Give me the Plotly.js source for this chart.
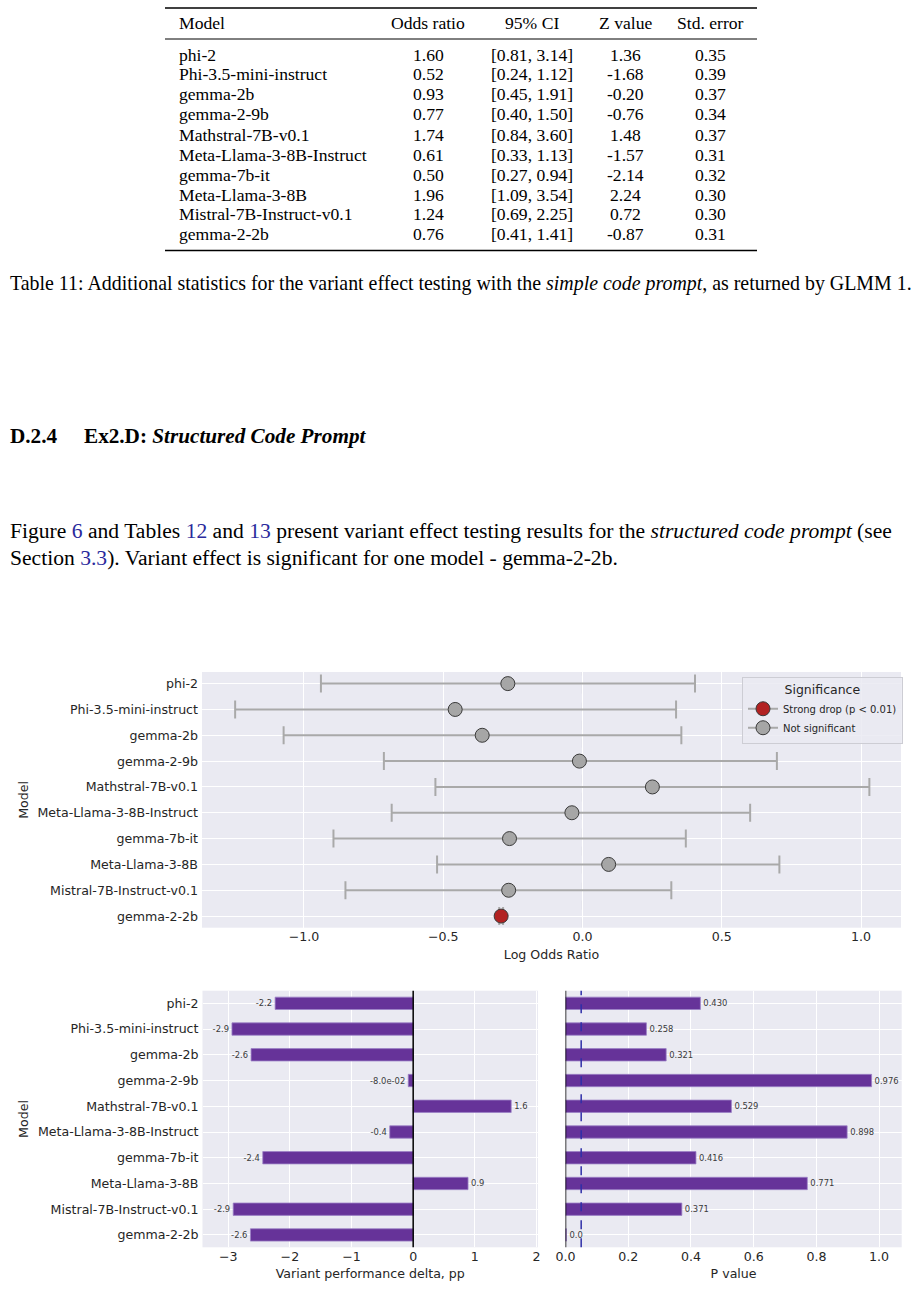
<!DOCTYPE html>
<html>
<head>
<meta charset="utf-8">
<script src="https://cdn.plot.ly/plotly-3.0.1.min.js"></script>
<style>
  html, body { margin: 0; padding: 0; background: #ffffff; }
  #page { width: 920px; height: 1289px; }
</style>
</head>
<body>
<div id="page"></div>
<script>
// ---------- Table 11 (simple code prompt) ----------
const tableHeaders = ['Model', 'Odds ratio', '95% CI', 'Z value', 'Std. error'];
const tableModels = ['phi-2', 'Phi-3.5-mini-instruct', 'gemma-2b', 'gemma-2-9b', 'Mathstral-7B-v0.1',
  'Meta-Llama-3-8B-Instruct', 'gemma-7b-it', 'Meta-Llama-3-8B', 'Mistral-7B-Instruct-v0.1', 'gemma-2-2b'];
const tableOddsRatio = ['1.60', '0.52', '0.93', '0.77', '1.74', '0.61', '0.50', '1.96', '1.24', '0.76'];
const tableCI = ['[0.81, 3.14]', '[0.24, 1.12]', '[0.45, 1.91]', '[0.40, 1.50]', '[0.84, 3.60]',
  '[0.33, 1.13]', '[0.27, 0.94]', '[1.09, 3.54]', '[0.69, 2.25]', '[0.41, 1.41]'];
const tableZ = ['1.36', '-1.68', '-0.20', '-0.76', '1.48', '-1.57', '-2.14', '2.24', '0.72', '-0.87'];
const tableSE = ['0.35', '0.39', '0.37', '0.34', '0.37', '0.31', '0.32', '0.30', '0.30', '0.31'];

// ---------- Figure 6 (structured code prompt) ----------
const models = ['phi-2', 'Phi-3.5-mini-instruct', 'gemma-2b', 'gemma-2-9b', 'Mathstral-7B-v0.1',
  'Meta-Llama-3-8B-Instruct', 'gemma-7b-it', 'Meta-Llama-3-8B', 'Mistral-7B-Instruct-v0.1', 'gemma-2-2b'];
const logOddsRatio = [-0.268, -0.457, -0.360, -0.011, 0.251, -0.038, -0.262, 0.094, -0.265, -0.292];
const ciLower = [-0.939, -1.247, -1.073, -0.713, -0.528, -0.685, -0.894, -0.522, -0.851, -0.299];
const ciUpper = [0.404, 0.336, 0.355, 0.698, 1.030, 0.602, 0.371, 0.707, 0.319, -0.285];
const significance = ['Not significant', 'Not significant', 'Not significant', 'Not significant',
  'Not significant', 'Not significant', 'Not significant', 'Not significant', 'Not significant',
  'Strong drop (p < 0.01)'];
const deltaPP = [-2.24, -2.94, -2.63, -0.08, 1.59, -0.38, -2.44, 0.89, -2.92, -2.64];
const deltaLabels = ['-2.2', '-2.9', '-2.6', '-8.0e-02', '1.6', '-0.4', '-2.4', '0.9', '-2.9', '-2.6'];
const pValues = [0.430, 0.258, 0.321, 0.976, 0.529, 0.898, 0.416, 0.771, 0.371, 0.003];
const pLabels = ['0.430', '0.258', '0.321', '0.976', '0.529', '0.898', '0.416', '0.771', '0.371', '0.0'];
const pThreshold = 0.05;

// ---------- helpers (page pixel -> paper fraction) ----------
const W = 920, H = 1289;
const px = v => v / W;
const py = v => 1 - v / H;

const serif = 'Liberation Serif, Times New Roman, serif';
const sans = 'DejaVu Sans, sans-serif';
const annotations = [];
const shapes = [];

function txt(text, x, y, size, opts) {
  annotations.push(Object.assign({
    text: text, xref: 'paper', yref: 'paper', x: px(x), y: py(y),
    xanchor: 'left', yanchor: 'middle', showarrow: false,
    font: { family: serif, size: size, color: '#000000' }
  }, opts || {}));
}
function rule(x0, x1, y, w) {
  shapes.push({ type: 'line', xref: 'paper', yref: 'paper', x0: px(x0), x1: px(x1), y0: py(y), y1: py(y),
    line: { color: '#000000', width: w } });
}

// Table
const TS = 17.6;
const colCenters = [null, 428, 532, 625, 710];
rule(165, 757, 8, 1.6);
rule(165, 757, 39, 1);
rule(165, 757, 250.5, 1.6);
txt(tableHeaders[0], 177, 23, TS);
for (let c = 1; c < tableHeaders.length; c++) txt(tableHeaders[c], colCenters[c], 23, TS, { xanchor: 'center' });
const tableCols = [tableOddsRatio, tableCI, tableZ, tableSE];
tableModels.forEach((m, i) => {
  const y = 54.5 + 20 * i;
  txt(m, 177, y, TS);
  tableCols.forEach((col, c) => txt(col[i], colCenters[c + 1], y, TS, { xanchor: 'center' }));
});

// Caption, heading, paragraph
const link = s => '<span style="color:#2a2a9c">' + s + '</span>';
txt('Table 11: Additional statistics for the variant effect testing with the <i>simple code prompt</i>, as returned by GLMM 1.', 8, 283, 19.9);
txt('<b>D.2.4</b>', 8, 436, 21.2);
txt('<b>Ex2.D: <i>Structured Code Prompt</i></b>', 82, 436, 21.2);
txt('Figure ' + link('6') + ' and Tables ' + link('12') + ' and ' + link('13') +
    ' present variant effect testing results for the <i>structured code prompt</i> (see', 8, 531, 21.6);
txt('Section ' + link('3.3') + '). Variant effect is significant for one model - gemma-2-2b.', 8, 558, 21.6);

// ---------- Chart traces ----------
const groups = [
  { name: 'Strong drop (p < 0.01)', color: '#b22222' },
  { name: 'Not significant', color: '#a6a6a6' }
];
const traces = [];
groups.forEach(g => {
  const idx = models.map((m, i) => i).filter(i => significance[i] === g.name);
  traces.push({
    type: 'scatter', mode: 'lines+markers', name: g.name,
    x: idx.flatMap(i => [logOddsRatio[i], null]),
    y: idx.flatMap(i => [models[i], null]),
    connectgaps: false,
    line: { color: '#a9a9a9', width: 2 },
    marker: { size: 14, color: g.color, line: { color: '#3a3a3a', width: 1 } },
    error_x: {
      type: 'data', symmetric: false,
      array: idx.flatMap(i => [ciUpper[i] - logOddsRatio[i], null]),
      arrayminus: idx.flatMap(i => [logOddsRatio[i] - ciLower[i], null]),
      color: '#a9a9a9', thickness: 2, width: 9
    },
    xaxis: 'x', yaxis: 'y', hoverinfo: 'skip'
  });
});

traces.push({
  type: 'bar', orientation: 'h', x: deltaPP, y: models, xaxis: 'x2', yaxis: 'y2',
  width: 0.48, marker: { color: '#663399', line: { color: '#9c82c6', width: 0.8 } },
  text: deltaLabels, textposition: 'outside', cliponaxis: false, constraintext: 'none',
  textfont: { family: sans, size: 8.4, color: '#3a3a3a' }, showlegend: false, hoverinfo: 'skip'
});
traces.push({
  type: 'bar', orientation: 'h', x: pValues, y: models, xaxis: 'x3', yaxis: 'y3',
  width: 0.48, marker: { color: '#663399', line: { color: '#9c82c6', width: 0.8 } },
  text: pLabels, textposition: 'outside', cliponaxis: false, constraintext: 'none',
  textfont: { family: sans, size: 8.4, color: '#3a3a3a' }, showlegend: false, hoverinfo: 'skip'
});

// Reference lines
shapes.push({ type: 'line', xref: 'x', yref: 'paper', x0: 0, x1: 0, y0: py(927.7), y1: py(672), layer: 'below',
  line: { color: '#555555', width: 1, dash: 'dash' } });
shapes.push({ type: 'line', xref: 'x2', yref: 'paper', x0: 0, x1: 0, y0: py(1247.3), y1: py(990.7), layer: 'above',
  line: { color: '#000000', width: 1.5 } });
shapes.push({ type: 'line', xref: 'x3', yref: 'paper', x0: 0, x1: 0, y0: py(1247.3), y1: py(990.7), layer: 'above',
  line: { color: '#000000', width: 1.5 } });
shapes.push({ type: 'line', xref: 'x3', yref: 'paper', x0: pThreshold, x1: pThreshold, y0: py(1247.3), y1: py(990.7), layer: 'above',
  line: { color: '#2f2fa8', width: 1.5, dash: 'dash' } });

const tickFont = { family: sans, size: 12.6, color: '#262626' };
const titleFont = { family: sans, size: 12.6, color: '#262626' };
const baseX = { gridcolor: '#ffffff', gridwidth: 1, zeroline: false, showline: false, ticks: '',
  tickfont: tickFont, automargin: false, fixedrange: true };
const baseY = { type: 'category', categoryorder: 'array', categoryarray: models, gridcolor: '#ffffff',
  gridwidth: 1, zeroline: false, showline: false, ticks: '', tickfont: tickFont, automargin: false,
  fixedrange: true, ticklabelstandoff: 3 };

const layout = {
  width: W, height: H, margin: { l: 0, r: 0, t: 0, b: 0 },
  paper_bgcolor: '#ffffff', plot_bgcolor: '#eaeaf2',
  font: { family: sans, size: 12, color: '#262626' },
  showlegend: true, hovermode: false, bargap: 0,
  xaxis: Object.assign({}, baseX, { domain: [px(202), px(901)], anchor: 'y', range: [-1.366, 1.1436],
    tick0: 0, dtick: 0.5, tickformat: '.1f', title: { text: 'Log Odds Ratio', font: titleFont, standoff: 6 } }),
  yaxis: Object.assign({}, baseY, { domain: [py(927.7), py(672)], anchor: 'x', range: [9.45, -0.45],
    title: { text: 'Model', font: titleFont, standoff: 6 } }),
  xaxis2: Object.assign({}, baseX, { domain: [px(202.5), px(538)], anchor: 'y2', range: [-3.418, 2.025],
    tick0: 0, dtick: 1, title: { text: 'Variant performance delta, pp', font: titleFont, standoff: 6 } }),
  yaxis2: Object.assign({}, baseY, { domain: [py(1247.3), py(990.7)], anchor: 'x2', range: [9.48, -0.49],
    title: { text: 'Model', font: titleFont, standoff: 6 } }),
  xaxis3: Object.assign({}, baseX, { domain: [px(565.5), px(901.7)], anchor: 'y3', range: [0, 1.072],
    tick0: 0, dtick: 0.2, tickformat: '.1f', title: { text: 'P value', font: titleFont, standoff: 6 } }),
  yaxis3: Object.assign({}, baseY, { domain: [py(1247.3), py(990.7)], anchor: 'x3', range: [9.48, -0.49],
    showticklabels: false }),
  legend: {
    x: px(742), y: py(677), xanchor: 'left', yanchor: 'top',
    bgcolor: 'rgba(234,234,242,0.85)', bordercolor: '#cdcdd4', borderwidth: 1,
    font: { family: sans, size: 10, color: '#262626' }, itemwidth: 30, tracegroupgap: 0,
    title: { text: 'Significance', side: 'top center', font: { family: sans, size: 12.5, color: '#262626' } }
  },
  annotations: annotations,
  shapes: shapes
};

Plotly.newPlot('page', traces, layout, { staticPlot: true, displayModeBar: false });
</script>
</body>
</html>
